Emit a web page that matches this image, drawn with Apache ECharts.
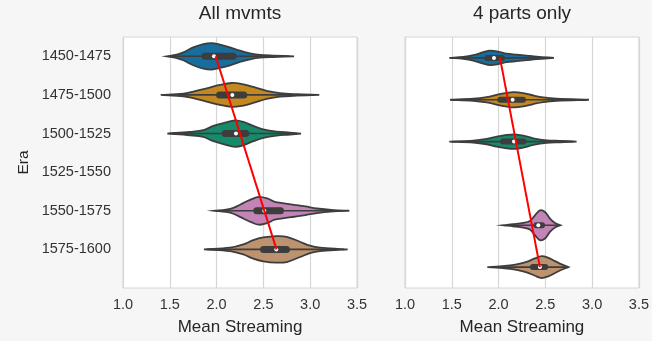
<!DOCTYPE html>
<html>
<head>
<meta charset="utf-8">
<script src="https://cdn.jsdelivr.net/npm/echarts@6/dist/echarts.min.js"></script>
<style>html,body{margin:0;padding:0;background:#f6f6f6;}#c{width:652px;height:341px;}</style>
</head>
<body>
<div id="c"></div>
<script>
// ---- Data ----
const eras = ['1450-1475', '1475-1500', '1500-1525', '1525-1550', '1550-1575', '1575-1600'];
const eraColors = ['#176d9c', '#c38820', '#168a6a', '#b25a1c', '#c283b6', '#bd926e'];
const panelTitles = ['All mvmts', '4 parts only'];

// All movements: violin density profiles (x values, half widths in category units)
const allProfX = [
  [1.467, 1.574, 1.645, 1.751, 1.858, 1.947, 2.036, 2.143, 2.25, 2.357, 2.464, 2.606, 2.827],
  [1.403, 1.645, 1.751, 1.894, 2.036, 2.161, 2.25, 2.392, 2.535, 2.677, 2.855, 3.097],
  [1.474, 1.716, 1.858, 1.965, 2.09, 2.197, 2.286, 2.392, 2.499, 2.642, 2.784, 2.902],
  null,
  [1.983, 2.10, 2.18, 2.29, 2.37, 2.45, 2.54, 2.62, 2.72, 2.83, 2.95, 3.07, 3.25, 3.418],
  [1.865, 2.143, 2.286, 2.392, 2.499, 2.642, 2.749, 2.891, 2.998, 3.105, 3.318, 3.40]
];
const allProfW = [
  [0, 0.044, 0.103, 0.232, 0.317, 0.343, 0.302, 0.232, 0.147, 0.077, 0.034, 0.018, 0],
  [0, 0.034, 0.086, 0.172, 0.258, 0.309, 0.292, 0.206, 0.103, 0.044, 0.018, 0],
  [0, 0.044, 0.086, 0.198, 0.284, 0.343, 0.302, 0.198, 0.111, 0.052, 0.026, 0],
  null,
  [0, 0.031, 0.077, 0.206, 0.296, 0.361, 0.322, 0.232, 0.193, 0.155, 0.111, 0.059, 0.018, 0],
  [0, 0.044, 0.129, 0.24, 0.309, 0.343, 0.327, 0.198, 0.095, 0.044, 0.008, 0]
];
const allQ1  = [1.84, 1.994, 2.054, null, 2.392, 2.464];
const allMed = [1.972, 2.168, 2.207, null, 2.51, 2.638];
const allQ3  = [2.215, 2.328, 2.35, null, 2.72, 2.784];
const allWLo = [1.50, 1.45, 1.52, null, 2.02, 1.90];
const allWHi = [2.78, 3.05, 2.86, null, 3.38, 3.36];
const allTrend = [[1.99, 0], [2.64, 5]];

// Four parts only
const partsProfX = [
  [1.474, 1.623, 1.73, 1.837, 1.908, 1.997, 2.086, 2.193, 2.30, 2.407, 2.592],
  [1.481, 1.73, 1.873, 2.015, 2.157, 2.264, 2.371, 2.478, 2.62, 2.966],
  [1.474, 1.73, 1.873, 1.98, 2.086, 2.175, 2.264, 2.371, 2.514, 2.656, 2.834],
  null,
  [2.058, 2.157, 2.264, 2.335, 2.389, 2.442, 2.496, 2.549, 2.603, 2.663],
  [1.88, 2.015, 2.122, 2.193, 2.30, 2.389, 2.46, 2.531, 2.603, 2.674, 2.745]
];
const partsProfW = [
  [0, 0.024, 0.064, 0.136, 0.174, 0.15, 0.102, 0.079, 0.055, 0.031, 0],
  [0, 0.024, 0.064, 0.136, 0.183, 0.16, 0.102, 0.055, 0.024, 0],
  [0, 0.024, 0.064, 0.119, 0.16, 0.174, 0.143, 0.079, 0.031, 0.017, 0],
  null,
  [0, 0.024, 0.055, 0.102, 0.238, 0.357, 0.317, 0.16, 0.055, 0],
  [0, 0.017, 0.04, 0.064, 0.126, 0.207, 0.262, 0.221, 0.143, 0.064, 0]
];
const partsQ1  = [1.847, 1.986, 2.015, null, 2.371, 2.335];
const partsMed = [1.951, 2.15, 2.165, null, 2.425, 2.442];
const partsQ3  = [2.068, 2.293, 2.30, null, 2.496, 2.531];
const partsWLo = [1.50, 1.50, 1.50, null, 2.10, 1.92];
const partsWHi = [2.56, 2.94, 2.80, null, 2.63, 2.72];
const partsTrend = [[2.015, 0], [2.442, 5]];

const xMin = 1.0, xMax = 3.5, xStep = 0.5;

// ---- Chart ----
const FONT = 'Liberation Sans, Arial, sans-serif';
const EDGE = '#3d3d3d';

function violinSeries(axisIdx, profX, profW, q1, med, q3, wlo, whi, boxH) {
  const data = [];
  eras.forEach((e, i) => { if (profX[i]) data.push([i, profX[i][0], profX[i][profX[i].length - 1]]); });
  return {
    type: 'custom',
    xAxisIndex: axisIdx, yAxisIndex: axisIdx,
    encode: { x: [1, 2], y: 0 },
    data: data,
    z: 3,
    renderItem: function (params, api) {
      const i = api.value(0);
      const xs = profX[i], ws = profW[i];
      const top = [], bot = [];
      for (let k = 0; k < xs.length; k++) {
        const c = api.coord([xs[k], i]);
        const h = Math.abs(api.size([0, ws[k]])[1]);
        top.push([c[0], c[1] - h]);
        bot.unshift([c[0], c[1] + h]);
      }
      const pLo = api.coord([wlo[i], i]), pHi = api.coord([whi[i], i]);
      const pQ1 = api.coord([q1[i], i]), pQ3 = api.coord([q3[i], i]);
      const pM = api.coord([med[i], i]);
      return {
        type: 'group',
        children: [
          { type: 'polygon', shape: { points: top.concat(bot), smooth: 0.35 },
            style: { fill: eraColors[i], stroke: EDGE, lineWidth: 1.8 } },
          { type: 'line', shape: { x1: pLo[0], y1: pLo[1], x2: pHi[0], y2: pHi[1] },
            style: { stroke: EDGE, lineWidth: 1.6 } },
          { type: 'rect', shape: { x: pQ1[0], y: pQ1[1] - boxH / 2, width: pQ3[0] - pQ1[0], height: boxH, r: boxH / 2 },
            style: { fill: EDGE } },
          { type: 'circle', shape: { cx: pM[0], cy: pM[1], r: 2 },
            style: { fill: '#ffffff' } }
        ]
      };
    }
  };
}

function trendSeries(axisIdx, pts) {
  return {
    type: 'line', xAxisIndex: axisIdx, yAxisIndex: axisIdx,
    data: pts, symbol: 'none', z: 6, silent: true,
    lineStyle: { color: '#ff0000', width: 2 }
  };
}

const gridBase = { top: 37, height: 252, width: 234, show: true, borderColor: '#d6d6d6', borderWidth: 1, backgroundColor: '#ffffff' };

function xAxisCfg(idx) {
  return {
    type: 'value', gridIndex: idx, min: xMin, max: xMax, interval: xStep,
    name: 'Mean Streaming', nameLocation: 'middle', nameGap: 31,
    nameTextStyle: { fontFamily: FONT, fontSize: 17, color: '#262626' },
    axisLine: { show: false }, axisTick: { show: false },
    axisLabel: { fontFamily: FONT, fontSize: 14.5, color: '#333333', margin: 9, formatter: v => v.toFixed(1) },
    splitLine: { show: true, lineStyle: { color: '#d6d6d6', width: 1.2 } }
  };
}

const option = {
  backgroundColor: '#f6f6f6',
  animation: false,
  graphic: [
    { type: 'text', x: 240, y: 4, style: { text: panelTitles[0], textAlign: 'center', fontFamily: FONT, fontSize: 19, fill: '#262626' } },
    { type: 'text', x: 522, y: 4, style: { text: panelTitles[1], textAlign: 'center', fontFamily: FONT, fontSize: 19, fill: '#262626' } }
  ],
  grid: [
    Object.assign({ left: 123 }, gridBase),
    Object.assign({ left: 405 }, gridBase)
  ],
  xAxis: [xAxisCfg(0), xAxisCfg(1)],
  yAxis: [
    {
      type: 'value', gridIndex: 0, min: -0.5, max: 6, inverse: true,
      name: 'Era', nameLocation: 'middle', nameGap: 91, nameRotate: 90,
      nameTextStyle: { fontFamily: FONT, fontSize: 15.5, color: '#262626' },
      axisLine: { show: false }, axisTick: { show: false }, splitLine: { show: false },
      axisLabel: { customValues: [0, 1, 2, 3, 4, 5], fontFamily: FONT, fontSize: 14.5, color: '#333333', margin: 12,
        formatter: v => eras[Math.round(v)] || '' }
    },
    {
      type: 'value', gridIndex: 1, min: -0.5, max: 5.5, inverse: true,
      axisLine: { show: false }, axisTick: { show: false }, splitLine: { show: false },
      axisLabel: { show: false }
    }
  ],
  series: [
    violinSeries(0, allProfX, allProfW, allQ1, allMed, allQ3, allWLo, allWHi, 7),
    trendSeries(0, allTrend),
    violinSeries(1, partsProfX, partsProfW, partsQ1, partsMed, partsQ3, partsWLo, partsWHi, 6),
    trendSeries(1, partsTrend)
  ]
};

const chart = echarts.init(document.getElementById('c'), null, { renderer: 'canvas' });
chart.setOption(option);
</script>
</body>
</html>
